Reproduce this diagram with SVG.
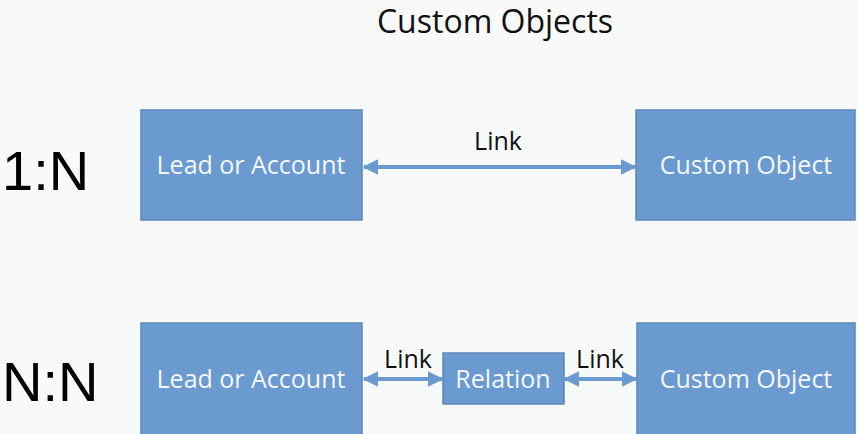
<svg xmlns="http://www.w3.org/2000/svg" width="858" height="434" viewBox="0 0 858 434">
<style>
.box{fill:#6A9AD0;stroke:#5B88BD;stroke-width:1.5}
.bt{font-family:"Open Sans","Liberation Sans",sans-serif;font-size:25px;fill:#F4F8FC;text-anchor:middle}
.lbl{font-family:"Open Sans","Liberation Sans",sans-serif;font-size:25px;fill:#111;text-anchor:middle}
.big{font-family:"Liberation Sans",Arial,sans-serif;font-size:56px;fill:#000}
.con{stroke:#6A9AD0;stroke-width:4;fill:none;marker-start:url(#ah);marker-end:url(#ah)}
</style>
<defs>
<marker id="ah" viewBox="0 0 10 10" refX="9" refY="5" markerWidth="4" markerHeight="4" orient="auto-start-reverse" markerUnits="strokeWidth">
<path d="M0,0 L10,5 L0,10 z" fill="#6A9AD0"/>
</marker>
</defs>
<rect width="858" height="434" fill="#F8F9F9"/>
<text x="495" y="33" font-family="'Open Sans','Liberation Sans',sans-serif" font-size="32" fill="#111" text-anchor="middle">Custom Objects</text>
<text class="big" x="2" y="190">1:N</text>
<text class="big" x="2" y="401">N:N</text>
<g id="connectors">
<line class="con" x1="364" y1="167" x2="635" y2="167"/>
<text class="lbl" x="498" y="150">Link</text>
<line class="con" x1="364" y1="379" x2="442" y2="379"/>
<text class="lbl" x="408" y="368">Link</text>
<line class="con" x1="565" y1="379" x2="636" y2="379"/>
<text class="lbl" x="600" y="368">Link</text>
</g>
<g id="lead1"><rect class="box" x="141" y="110" width="221" height="110"/><text class="bt" x="251" y="174">Lead or Account</text></g>
<g id="custom1"><rect class="box" x="636" y="110" width="219" height="110"/><text class="bt" x="746" y="174">Custom Object</text></g>
<g id="lead2"><rect class="box" x="141" y="323" width="221" height="115"/><text class="bt" x="251" y="388">Lead or Account</text></g>
<g id="relation"><rect class="box" x="443" y="353" width="121" height="51"/><text class="bt" x="503" y="388">Relation</text></g>
<g id="custom2"><rect class="box" x="637" y="323" width="218" height="115"/><text class="bt" x="746" y="388">Custom Object</text></g>
</svg>
